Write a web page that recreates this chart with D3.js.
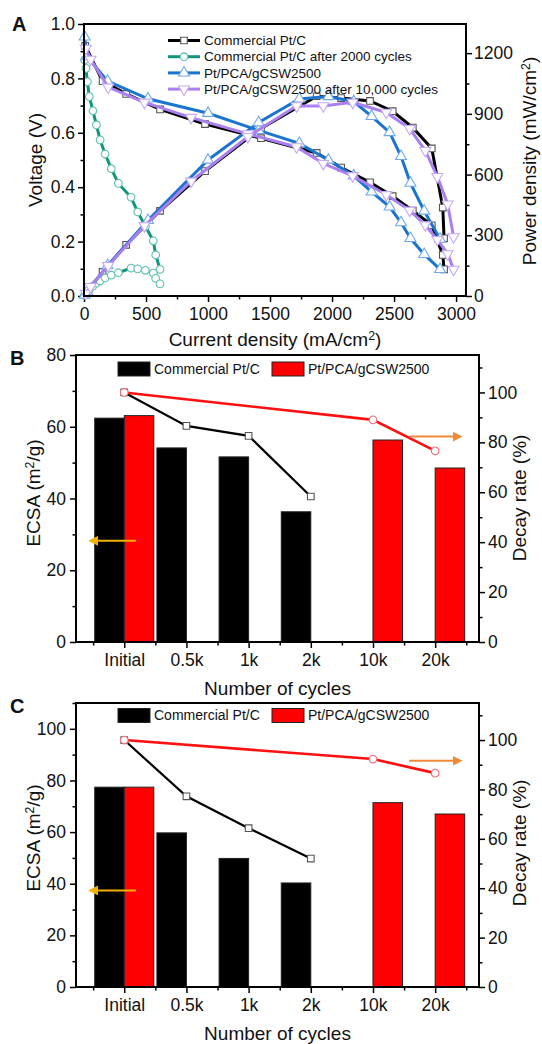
<!DOCTYPE html>
<meta charset="utf-8">
<head>
  <title>Fuel cell polarization and ECSA decay</title>
</head>

<style>
body { margin: 0; background: #fff; }
text {
  font-family: "Liberation Sans", Arial, sans-serif;
  fill: #111;
}
.axis line { stroke: #000; stroke-width: 1.5; }
.axis path { display: none; }
.axis text { font-size: 17.5px; fill: #111; }
.frame { fill: none; stroke: #000; stroke-width: 2; }
.title { font-size: 19px; }
.letter { font-size: 20px; font-weight: bold; }
</style>

<body>
  <svg width="542" height="1044"></svg>

  <script src="https://cdn.jsdelivr.net/npm/d3@7"></script>
  <script>
// ---- panel A: polarization / power density curves ----
var curPtC   = [10, 150, 340, 613, 976, 1427, 1876, 2073, 2306, 2489, 2651, 2804, 2893, 2903];
var voltPtC  = [0.92, 0.79, 0.743, 0.686, 0.632, 0.58, 0.526, 0.472, 0.418, 0.367, 0.314, 0.26, 0.151, 0.098];
var powPtC   = [9, 119, 253, 421, 617, 828, 987, 978, 964, 913, 832, 729, 437, 285];

var curPtC2k  = [5, 16, 27, 43, 72, 100, 130, 170, 220, 277, 379, 433, 495, 559, 578, 613];
var voltPtC2k = [0.868, 0.837, 0.788, 0.733, 0.681, 0.629, 0.574, 0.522, 0.468, 0.414, 0.363, 0.309, 0.256, 0.203, 0.151, 0.098];
var powPtC2k  = [4, 13, 21, 32, 49, 63, 75, 89, 103, 115, 138, 134, 127, 113, 87, 60];

var curPCA   = [5, 25, 190, 516, 1000, 1408, 1736, 1971, 2175, 2319, 2464, 2556, 2632, 2743, 2871];
var voltPCA  = [0.953, 0.88, 0.79, 0.725, 0.672, 0.609, 0.561, 0.5, 0.442, 0.383, 0.328, 0.27, 0.212, 0.153, 0.098];
var powPCA   = [5, 22, 150, 374, 672, 857, 974, 986, 961, 888, 808, 690, 558, 420, 281];

var curPCA10k  = [14, 53, 195, 488, 864, 1321, 1714, 1929, 2166, 2437, 2626, 2752, 2849, 2932, 2980];
var voltPCA10k = [0.91, 0.87, 0.768, 0.712, 0.656, 0.596, 0.548, 0.487, 0.442, 0.372, 0.315, 0.261, 0.207, 0.155, 0.098];
var powPCA10k  = [13, 46, 150, 347, 567, 787, 939, 939, 957, 907, 827, 718, 590, 454, 292];

var legendA = ['Commercial Pt/C', 'Commercial Pt/C after 2000 cycles', 'Pt/PCA/gCSW2500', 'Pt/PCA/gCSW2500 after 10,000 cycles'];

// ---- panels B and C: ECSA bars + decay rate ----
var cycles = ['Initial', '0.5k', '1k', '2k', '10k', '20k'];

var ecsaPtC_B   = [62.4, 54.1, 51.6, 36.3, null, null];
var ecsaPCA_B   = [63.1, null, null, null, 56.3, 48.5];
var decayPtC_B  = [100, 86.6, 82.6, 58.3, null, null];
var decayPCA_B  = [100, null, null, null, 89.0, 76.6];

var ecsaPtC_C   = [77.4, 59.7, 49.8, 40.3, null, null];
var ecsaPCA_C   = [77.4, null, null, null, 71.4, 67.0];
var decayPtC_C  = [100, 77.2, 64.3, 52.0, null, null];
var decayPCA_C  = [100, null, null, null, 92.3, 86.6];

var legendBars = ['Commercial Pt/C', 'Pt/PCA/gCSW2500'];

var svg = d3.select('svg');

function zip(a, b) { return a.map(function(v, i) { return [v, b[i]]; }); }

// minor ticks first, then major ticks with labels
function drawAxis(orient, scale, tx, ty, major, minor, fmt, pad) {
  var maker = {left: d3.axisLeft, right: d3.axisRight, bottom: d3.axisBottom}[orient];
  svg.append('g').attr('class', 'axis')
    .attr('transform', 'translate(' + tx + ',' + ty + ')')
    .call(maker(scale).tickValues(minor).tickSize(3.5).tickSizeOuter(0).tickFormat(''));
  svg.append('g').attr('class', 'axis')
    .attr('transform', 'translate(' + tx + ',' + ty + ')')
    .call(maker(scale).tickValues(major).tickSize(6).tickSizeOuter(0).tickPadding(pad).tickFormat(fmt));
}

function supLabel(sel, before, sup, after) {
  sel.append('tspan').text(before);
  sel.append('tspan').attr('font-size', '0.65em').attr('dy', '-0.5em').text(sup);
  sel.append('tspan').attr('dy', '0.32em').text(after);
}

// ================= Panel A =================
var xA  = d3.scaleLinear().domain([0, 3080]).range([84, 466]);
var yV  = d3.scaleLinear().domain([0, 1]).range([296, 24]);
var yP  = d3.scaleLinear().domain([0, 1344]).range([296, 24]);

drawAxis('bottom', xA, 0, 296, d3.range(0, 3001, 500), d3.range(250, 3000, 500), d3.format('d'), 5.5);
drawAxis('left', yV, 84, 0, d3.range(0, 1.01, 0.2), d3.range(0.1, 1, 0.2), d3.format('.1f'), 3);
drawAxis('right', yP, 466, 0, d3.range(0, 1201, 300), d3.range(150, 1300, 300), d3.format('d'), 2);

var symSquare = d3.symbol().type(d3.symbolSquare).size(44)();
var symCircle = d3.symbol().type(d3.symbolCircle).size(46)();
var symTri    = d3.symbol().type(d3.symbolTriangle).size(52)();

var seriesA = [
  {I: curPtC,    V: voltPtC,    P: powPtC,    color: '#000000', edge: '#555555', sym: symSquare, rot: 0},
  {I: curPtC2k,  V: voltPtC2k,  P: powPtC2k,  color: '#12957d', edge: '#5fc2ad', sym: symCircle, rot: 0},
  {I: curPCA,    V: voltPCA,    P: powPCA,    color: '#1a74d0', edge: '#6eaaea', sym: symTri,    rot: 0},
  {I: curPCA10k, V: voltPCA10k, P: powPCA10k, color: '#aa7ff0', edge: '#c6a8f6', sym: symTri,    rot: 180}
];

var lineV = d3.line().x(function(d) { return xA(d[0]); }).y(function(d) { return yV(d[1]); });
var lineP = d3.line().x(function(d) { return xA(d[0]); }).y(function(d) { return yP(d[1]); });

seriesA.forEach(function(s) {
  var gs = svg.append('g');
  var ptsV = zip(s.I, s.V), ptsP = zip(s.I, s.P);
  gs.append('path').attr('d', lineV(ptsV)).attr('fill', 'none').attr('stroke', s.color).attr('stroke-width', 3);
  gs.append('path').attr('d', lineP(ptsP)).attr('fill', 'none').attr('stroke', s.color).attr('stroke-width', 3);
  var mk = function(pts, y) {
    gs.selectAll(null).data(pts).enter().append('path')
      .attr('d', s.sym)
      .attr('transform', function(d) { return 'translate(' + xA(d[0]) + ',' + y(d[1]) + ') rotate(' + s.rot + ')'; })
      .attr('fill', '#fff').attr('stroke', s.edge).attr('stroke-width', 1.1);
  };
  mk(ptsV, yV);
  mk(ptsP, yP);
});

svg.append('rect').attr('class', 'frame').attr('x', 84).attr('y', 24).attr('width', 382).attr('height', 272);

// legend A
var legA = svg.append('g');
legendA.forEach(function(name, i) {
  var s = seriesA[i], yy = 40.5 + i * 16.2;
  legA.append('line').attr('x1', 168).attr('x2', 200).attr('y1', yy).attr('y2', yy)
    .attr('stroke', s.color).attr('stroke-width', 3);
  legA.append('path').attr('d', s.sym).attr('transform', 'translate(184,' + yy + ') rotate(' + s.rot + ')')
    .attr('fill', '#fff').attr('stroke', s.edge).attr('stroke-width', 1.1);
  legA.append('text').attr('x', 204).attr('y', yy).attr('dy', '0.35em')
    .style('font-size', '13.5px').text(name);
});

supLabel(svg.append('text').attr('class', 'title').attr('x', 275).attr('y', 346).attr('text-anchor', 'middle'),
  'Current density (mA/cm', '2', ')');
svg.append('text').attr('class', 'title').attr('text-anchor', 'middle')
  .attr('transform', 'translate(42,160) rotate(-90)').text('Voltage (V)');
supLabel(svg.append('text').attr('class', 'title').attr('text-anchor', 'middle')
  .attr('transform', 'translate(536,161) rotate(-90)'), 'Power density (mW/cm', '2', ')');
svg.append('text').attr('class', 'letter').attr('x', 12).attr('y', 30.5).text('A');

// ================= Panels B / C =================
var defs = svg.append('defs');
[['arrGold', '#f2b000'], ['arrOrange', '#f08a3a']].forEach(function(a) {
  defs.append('marker').attr('id', a[0]).attr('viewBox', '0 0 10 10').attr('refX', 5).attr('refY', 5)
    .attr('markerWidth', 5).attr('markerHeight', 5).attr('orient', 'auto')
    .append('path').attr('d', 'M0,0L10,5L0,10z').attr('fill', a[1]);
});

function barPanel(cfg) {
  var x  = d3.scaleLinear().domain([-0.776, 5.705]).range([76, 479]);
  var yL = d3.scaleLinear().domain([0, cfg.leftMax]).range([cfg.bottom, cfg.top]);
  var yR = d3.scaleLinear().domain([0, 115]).range([cfg.bottom, cfg.top]);
  var bw = 0.475;
  var idx = d3.range(cycles.length);

  drawAxis('bottom', x, 0, cfg.bottom, idx, d3.range(-0.5, 6, 1), function(i) { return cycles[i]; }, 5.5);
  drawAxis('left', yL, 76, 0, cfg.leftMajor, cfg.leftMinor, d3.format('d'), 4);
  drawAxis('right', yR, 479, 0, d3.range(0, 101, 20), d3.range(10, 115, 20), d3.format('d'), 3);

  var g = svg.append('g');
  g.selectAll(null).data(idx.filter(function(i) { return cfg.ptc[i] != null; })).enter().append('rect')
    .attr('x', function(i) { return x(i - bw); })
    .attr('width', function(i) { return x(i) - x(i - bw); })
    .attr('y', function(i) { return yL(cfg.ptc[i]); })
    .attr('height', function(i) { return cfg.bottom - yL(cfg.ptc[i]); })
    .attr('fill', '#000').attr('stroke', '#222').attr('stroke-width', 1);
  g.selectAll(null).data(idx.filter(function(i) { return cfg.pca[i] != null; })).enter().append('rect')
    .attr('x', function(i) { return x(i); })
    .attr('width', function(i) { return x(i + bw) - x(i); })
    .attr('y', function(i) { return yL(cfg.pca[i]); })
    .attr('height', function(i) { return cfg.bottom - yL(cfg.pca[i]); })
    .attr('fill', '#ff0000').attr('stroke', '#222').attr('stroke-width', 1);

  var line = d3.line()
    .defined(function(d) { return d[1] != null; })
    .x(function(d) { return x(d[0]); }).y(function(d) { return yR(d[1]); });
  var ptsK = zip(idx, cfg.decPtc).filter(function(d) { return d[1] != null; });
  var ptsR = zip(idx, cfg.decPca).filter(function(d) { return d[1] != null; });

  g.append('path').attr('d', line(ptsK)).attr('fill', 'none').attr('stroke', '#000').attr('stroke-width', 2.2);
  g.selectAll(null).data(ptsK).enter().append('path').attr('d', symSquare)
    .attr('transform', function(d) { return 'translate(' + x(d[0]) + ',' + yR(d[1]) + ')'; })
    .attr('fill', '#fff').attr('stroke', '#555').attr('stroke-width', 1.1);
  g.append('path').attr('d', line(ptsR)).attr('fill', 'none').attr('stroke', '#ff1010').attr('stroke-width', 2.6);
  g.selectAll(null).data(ptsR).enter().append('path').attr('d', symCircle)
    .attr('transform', function(d) { return 'translate(' + x(d[0]) + ',' + yR(d[1]) + ')'; })
    .attr('fill', '#fff').attr('stroke', '#f06a78').attr('stroke-width', 1.1);

  // direction arrows
  g.append('line').attr('x1', x(0.19)).attr('x2', x(-0.5)).attr('y1', yL(cfg.arrowL)).attr('y2', yL(cfg.arrowL))
    .attr('stroke', '#f2b000').attr('stroke-width', 2).attr('marker-end', 'url(#arrGold)');
  g.append('line').attr('x1', x(4.58)).attr('x2', x(5.36)).attr('y1', yR(cfg.arrowR)).attr('y2', yR(cfg.arrowR))
    .attr('stroke', '#f08a3a').attr('stroke-width', 2).attr('marker-end', 'url(#arrOrange)');

  svg.append('rect').attr('class', 'frame').attr('x', 76).attr('y', cfg.top)
    .attr('width', 403).attr('height', cfg.bottom - cfg.top);

  // legend
  var ly = cfg.top + cfg.legendDy;
  var leg = svg.append('g');
  [['#000', 118, 154], ['#ff0000', 272, 308]].forEach(function(l, i) {
    leg.append('rect').attr('x', l[1]).attr('y', ly - 7).attr('width', 32).attr('height', 14)
      .attr('fill', l[0]).attr('stroke', '#222').attr('stroke-width', 1);
    leg.append('text').attr('x', l[2]).attr('y', ly).attr('dy', '0.35em')
      .style('font-size', '14px').text(legendBars[i]);
  });

  svg.append('text').attr('class', 'title').attr('x', 277.5).attr('y', cfg.bottom + 53)
    .attr('text-anchor', 'middle').text('Number of cycles');
  supLabel(svg.append('text').attr('class', 'title').attr('text-anchor', 'middle')
    .attr('transform', 'translate(40,' + cfg.leftLabelY + ') rotate(-90)'), 'ECSA (m', '2', '/g)');
  svg.append('text').attr('class', 'title').attr('text-anchor', 'middle')
    .attr('transform', 'translate(526,' + cfg.rightLabelY + ') rotate(-90)').text('Decay rate (%)');
  svg.append('text').attr('class', 'letter').attr('x', 10).attr('y', cfg.top + 10).text(cfg.letter);
}

barPanel({
  letter: 'B', top: 355, bottom: 642, leftMax: 80,
  leftMajor: d3.range(0, 81, 20), leftMinor: d3.range(10, 80, 20),
  ptc: ecsaPtC_B, pca: ecsaPCA_B, decPtc: decayPtC_B, decPca: decayPCA_B,
  arrowL: 28.2, arrowR: 82.3, legendDy: 14, leftLabelY: 493, rightLabelY: 498
});

barPanel({
  letter: 'C', top: 703, bottom: 987, leftMax: 110,
  leftMajor: d3.range(0, 101, 20), leftMinor: d3.range(10, 111, 20),
  ptc: ecsaPtC_C, pca: ecsaPCA_C, decPtc: decayPtC_C, decPca: decayPCA_C,
  arrowL: 37.4, arrowR: 91.6, legendDy: 12.5, leftLabelY: 838, rightLabelY: 843
});
  </script>
</body>
